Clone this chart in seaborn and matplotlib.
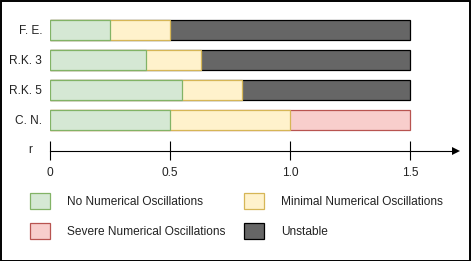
import matplotlib
matplotlib.use("Agg")
import matplotlib.pyplot as plt
from matplotlib.patches import Patch, Rectangle
import seaborn as sns
import pandas as pd

# ---- data ----
methods = ["F. E.", "R.K. 3", "R.K. 5", "C. N."]
no_osc_end = [0.25, 0.40, 0.55, 0.50]
minimal_end = [0.50, 0.63, 0.80, 1.00]
final_end = [1.5, 1.5, 1.5, 1.5]
final_kind = ["Unstable", "Unstable", "Unstable", "Severe"]
x_ticks = [0, 0.5, 1.0, 1.5]
x_tick_labels = ["0", "0.5", "1.0", "1.5"]
axis_label = "r"
legend_labels = ["No Numerical Oscillations", "Minimal Numerical Oscillations",
                 "Severe Numerical Oscillations", "Unstable"]

# ---- styles ----
styles = {
    "No": ("#d5e8d4", "#82b366"),
    "Minimal": ("#fff2cc", "#d6b656"),
    "Severe": ("#f8cecc", "#b85450"),
    "Unstable": ("#666666", "#000000"),
}

sns.set_style("white")
plt.rcParams["font.family"] = ["Liberation Sans", "DejaVu Sans"]
FS = 8.6

W, H = 471, 261
fig = plt.figure(figsize=(W / 100, H / 100), dpi=100)
ax = fig.add_axes([50 / W, 0, 1 - 50 / W, 1])

df = pd.DataFrame({"method": methods, "no": no_osc_end, "minimal": minimal_end,
                   "final": final_end, "kind": final_kind})

LW = 0.9
bar_kw = dict(orient="h", order=methods, width=2 / 3, saturation=1,
              errorbar=None, linewidth=LW, ax=ax)
# draw cumulative segments back-to-front
for kind in ["Unstable", "Severe"]:
    sub = df[df["kind"] == kind]
    fc, ec = styles[kind]
    sns.barplot(data=sub, x="final", y="method", color=fc, edgecolor=ec, **bar_kw)
fc, ec = styles["Minimal"]
sns.barplot(data=df, x="minimal", y="method", color=fc, edgecolor=ec, **bar_kw)
fc, ec = styles["No"]
sns.barplot(data=df, x="no", y="method", color=fc, edgecolor=ec, **bar_kw)

ax.set_xlim(0, (W - 50) / 240)
ax.set_ylim((H - 30) / 30, -1)
ax.set_xlabel("")
ax.set_ylabel("")

# axis line with arrow
AXIS_Y = 4.02
for s in ["top", "right", "left"]:
    ax.spines[s].set_visible(False)
ax.spines["bottom"].set_position(("data", AXIS_Y))
ax.spines["bottom"].set_bounds(0, 1.69)
ax.spines["bottom"].set_linewidth(0.8)
ax.spines["bottom"].set_color("black")
ax.plot([1.693], [AXIS_Y], marker=">", markersize=6, color="black", clip_on=False,
        markeredgewidth=0)
ax.set_xticks(x_ticks)
ax.set_xticklabels(x_tick_labels)
ax.tick_params(axis="x", bottom=True, length=0, pad=12.0, labelsize=FS,
               labelcolor="#222222")
# tick marks crossing the axis line
ax.vlines(x_ticks, AXIS_Y - 0.33, AXIS_Y + 0.3, colors="black", linewidth=0.8,
          clip_on=False)
ax.tick_params(axis="y", left=False, length=0, pad=5.5, labelsize=FS,
               labelcolor="#222222")
for lbl in ax.get_yticklabels():
    lbl.set_horizontalalignment("right")

ax.text(-20 / 240, 4.0, axis_label, ha="center", va="center", fontsize=FS,
        color="#222222")

# legend
handles = [Patch(facecolor=styles[k][0], edgecolor=styles[k][1], linewidth=LW)
           for k in ["No", "Minimal", "Severe", "Unstable"]]
# legend is filled column-wise; reorder so rows are (No, Minimal), (Severe, Unstable)
order = [0, 2, 1, 3]
leg = ax.legend([handles[i] for i in order], [legend_labels[i] for i in order],
                ncol=2, frameon=False, fontsize=FS,
                loc="upper left", bbox_to_anchor=(30 / W, 1 - 193 / H),
                bbox_transform=fig.transFigure, borderpad=0, borderaxespad=0,
                handlelength=1.68, handleheight=1.68, handletextpad=1.42,
                columnspacing=1.55, labelspacing=1.2)
for t in leg.get_texts():
    t.set_color("#222222")

# figure border
fig.add_artist(Rectangle((0.5 / W, 0.5 / H), 1 - 1.5 / W, 1 - 1.5 / H,
                         transform=fig.transFigure, fill=False,
                         edgecolor="black", linewidth=1.4))

fig.savefig("out.png", dpi=100)
